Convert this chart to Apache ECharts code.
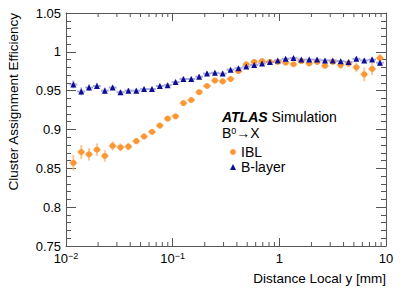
<!DOCTYPE html>
<html><head><meta charset="utf-8">
<script src="https://cdn.jsdelivr.net/npm/echarts@6/dist/echarts.min.js"></script>
<style>html,body{margin:0;padding:0;background:#fff}#c{width:407px;height:292px}</style>
</head><body><div id="c"></div>
<script>
// Bin centres (Distance Local y [mm])
const xCenters = [0.01172, 0.01390, 0.01644, 0.01950, 0.02312, 0.02735, 0.03243, 0.03846, 0.04560, 0.05395,
  0.06397, 0.07586, 0.08974, 0.1064, 0.1262, 0.1493, 0.1770, 0.2099, 0.2489, 0.2944,
  0.3491, 0.4140, 0.4898, 0.5808, 0.6887, 0.8166, 0.9661, 1.146, 1.358, 1.607,
  1.905, 2.259, 2.679, 3.170, 3.758, 4.457, 5.272, 6.252, 7.413, 8.770];
// IBL efficiency and errors
const iblEff = [0.857, 0.871, 0.868, 0.874, 0.866, 0.879, 0.877, 0.878, 0.885, 0.891,
  0.897, 0.905, 0.914, 0.917, 0.934, 0.938, 0.948, 0.956, 0.963, 0.962,
  0.965, 0.975, 0.984, 0.987, 0.988, 0.987, 0.987, 0.986, 0.984, 0.988,
  0.985, 0.987, 0.982, 0.987, 0.983, 0.985, 0.980, 0.971, 0.978, 0.992];
const iblErr = [0.010, 0.009, 0.008, 0.008, 0.0075, 0.006, 0.005, 0.005, 0.004, 0.004,
  0.003, 0.003, 0.003, 0.003, 0.003, 0.003, 0.003, 0.003, 0.003, 0.003,
  0.003, 0.003, 0.003, 0.003, 0.003, 0.003, 0.003, 0.003, 0.003, 0.003,
  0.003, 0.003, 0.003, 0.003, 0.005, 0.005, 0.006, 0.009, 0.008, 0.005];
// B-layer efficiency and errors
const blayerEff = [0.958, 0.949, 0.954, 0.956, 0.950, 0.954, 0.948, 0.950, 0.950, 0.952,
  0.952, 0.956, 0.957, 0.961, 0.965, 0.965, 0.968, 0.972, 0.973, 0.972,
  0.977, 0.979, 0.981, 0.983, 0.985, 0.987, 0.989, 0.991, 0.992, 0.990,
  0.990, 0.990, 0.989, 0.989, 0.988, 0.987, 0.991, 0.989, 0.990, 0.986];
const blayerErr = [0.005, 0.005, 0.004, 0.004, 0.004, 0.003, 0.003, 0.003, 0.003, 0.003,
  0.003, 0.003, 0.003, 0.003, 0.003, 0.003, 0.003, 0.003, 0.003, 0.003,
  0.002, 0.002, 0.002, 0.002, 0.002, 0.002, 0.002, 0.002, 0.002, 0.002,
  0.002, 0.002, 0.002, 0.002, 0.002, 0.002, 0.003, 0.003, 0.003, 0.004];
const logMinorTicks = [0.02,0.03,0.04,0.05,0.06,0.07,0.08,0.09,0.2,0.3,0.4,0.5,0.6,0.7,0.8,0.9,2,3,4,5,6,7,8,9];
const seriesNames = ['IBL', 'B-layer'];
const yTicksMin = 0.75, yTicksMax = 1.05;

// bin edges: geometric midpoints between neighbouring centres
function edges(xs) {
  const lo = [], hi = [];
  for (let i = 0; i < xs.length; i++) {
    const prev = i > 0 ? xs[i - 1] : xs[i] * xs[i] / xs[i + 1];
    const next = i < xs.length - 1 ? xs[i + 1] : xs[i] * xs[i] / xs[i - 1];
    lo.push(Math.sqrt(prev * xs[i]));
    hi.push(Math.sqrt(next * xs[i]));
  }
  return [lo, hi];
}
const [xLo, xHi] = edges(xCenters);
function errData(eff, err) {
  return xCenters.map((x, i) => [x, eff[i], xLo[i], xHi[i], err[i]]);
}
function errRender(color) {
  return function (params, api) {
    const x = api.value(0), y = api.value(1), e = api.value(4);
    const c = api.coord([x, y]);
    const l = api.coord([api.value(2), y]), h = api.coord([api.value(3), y]);
    const t = api.coord([x, y + e]), b = api.coord([x, y - e]);
    return { type: 'group', children: [
      { type: 'line', shape: { x1: l[0], y1: c[1], x2: h[0], y2: c[1] }, style: { stroke: color, lineWidth: 2 } },
      { type: 'line', shape: { x1: c[0], y1: t[1], x2: c[0], y2: b[1] }, style: { stroke: color, lineWidth: 2 } }
    ] };
  };
}
const FONT = 'Liberation Sans, Arial, Helvetica, sans-serif';
const AX = '#555';
const chart = echarts.init(document.getElementById('c'), null, { renderer: 'svg' });
const supStyle = { fontSize: 9, fontFamily: FONT, color: '#000', padding: [0, 0, 6, 0], lineHeight: 9 };
const supTitle = { fontSize: 9, fontFamily: FONT, color: '#000', padding: [0, 0, 5, 0], lineHeight: 9 };
const option = {
  animation: false,
  backgroundColor: '#fff',
  textStyle: { fontFamily: FONT },
  grid: { left: 66, right: 21, top: 13, bottom: 46 },
  title: {
    left: 222, top: 110, itemGap: 2, padding: 0,
    text: '{a|ATLAS} Simulation',
    textStyle: { fontSize: 14, fontWeight: 'normal', color: '#000', fontFamily: FONT, lineHeight: 14,
      rich: { a: { fontSize: 14, fontWeight: 'bold', fontStyle: 'italic', color: '#000', fontFamily: FONT, lineHeight: 14 } } },
    subtext: 'B{s|0}→X',
    subtextStyle: { fontSize: 14, color: '#000', fontFamily: FONT, lineHeight: 14,
      rich: { s: supTitle } }
  },
  legend: {
    orient: 'vertical', left: 225, top: 140,
    data: [{ name: 'IBL', icon: 'circle' }, { name: 'B-layer', icon: 'triangle' }],
    itemWidth: 6, itemHeight: 6, itemGap: 1, itemTextGap: 13,
    textStyle: { fontSize: 14, color: '#000', fontFamily: FONT, lineHeight: 14 },
    selectedMode: false
  },
  xAxis: [{
    type: 'log', logBase: 10, min: 0.01, max: 10, splitNumber: 3, position: 'bottom',
    name: 'Distance Local y [mm]', nameLocation: 'end', nameGap: 0,
    nameTextStyle: { fontSize: 13.5, color: '#000', fontFamily: FONT, align: 'right', verticalAlign: 'top', padding: [25, 0, 0, 0] },
    axisLine: { lineStyle: { color: AX } },
    axisTick: { inside: true, length: 8, lineStyle: { color: AX } },
    splitLine: { show: false },
    axisLabel: { fontSize: 13, color: '#000', fontFamily: FONT, margin: 6, lineHeight: 13,
      formatter: function (v) {
        const e = Math.round(Math.log10(v));
        if (e === 0) return '1';
        if (e === 1) return '10';
        return '10{sup|−' + (-e) + '}';
      },
      rich: { sup: supStyle } }
  }, {
    type: 'log', logBase: 10, min: 0.01, max: 10, splitNumber: 3, position: 'top',
    axisLine: { lineStyle: { color: AX } },
    axisTick: { inside: true, length: 8, lineStyle: { color: AX } },
    axisLabel: { show: false }, splitLine: { show: false }
  }],
  yAxis: [{
    type: 'value', min: yTicksMin, max: yTicksMax, interval: 0.05, position: 'left',
    axisLine: { show: true, lineStyle: { color: AX } },
    axisTick: { show: true, inside: true, length: 10, lineStyle: { color: AX } },
    minorTick: { show: true, splitNumber: 5, length: 5, lineStyle: { color: AX } },
    splitLine: { show: false },
    axisLabel: { fontSize: 13, color: '#000', fontFamily: FONT, margin: 5, lineHeight: 10 }
  }, {
    type: 'value', min: yTicksMin, max: yTicksMax, interval: 0.05, position: 'right',
    axisLine: { show: true, lineStyle: { color: AX } },
    axisTick: { show: true, inside: true, length: 10, lineStyle: { color: AX } },
    minorTick: { show: true, splitNumber: 5, length: 5, lineStyle: { color: AX } },
    splitLine: { show: false }, axisLabel: { show: false }
  }],
  graphic: [{
    type: 'text', x: 6, y: 13, rotation: Math.PI / 2,
    style: { text: 'Cluster Assignment Efficiency', fontSize: 13.5, fontFamily: FONT, fill: '#000', align: 'right', verticalAlign: 'top' }
  }],
  series: [
    { type: 'custom', name: 'minorticks', silent: true, clip: false, xAxisIndex: 0, yAxisIndex: 0,
      data: logMinorTicks.map(v => [v, yTicksMin]), encode: { x: 0, y: 1 },
      renderItem: function (params, api) {
        const v = api.value(0);
        const b = api.coord([v, yTicksMin]), t = api.coord([v, yTicksMax]);
        return { type: 'group', children: [
          { type: 'line', shape: { x1: b[0], y1: b[1], x2: b[0], y2: b[1] - 4 }, style: { stroke: AX, lineWidth: 1 } },
          { type: 'line', shape: { x1: t[0], y1: t[1], x2: t[0], y2: t[1] + 4 }, style: { stroke: AX, lineWidth: 1 } }
        ] };
      } },
    { type: 'custom', name: 'IBL err', silent: true, data: errData(iblEff, iblErr), encode: { x: 0, y: 1 },
      renderItem: errRender('rgba(250,180,110,0.75)') },
    { type: 'custom', name: 'B-layer err', silent: true, data: errData(blayerEff, blayerErr), encode: { x: 0, y: 1 },
      renderItem: errRender('rgba(130,130,210,0.7)') },
    { type: 'scatter', name: seriesNames[0], symbol: 'circle', symbolSize: 6,
      itemStyle: { color: '#fb9734', opacity: 1 }, data: xCenters.map((x, i) => [x, iblEff[i]]) },
    { type: 'scatter', name: seriesNames[1], symbol: 'triangle', symbolSize: 6,
      itemStyle: { color: '#0c0c95', opacity: 1 }, data: xCenters.map((x, i) => [x, blayerEff[i]]) }
  ]
};
chart.setOption(option);
</script></body></html>
